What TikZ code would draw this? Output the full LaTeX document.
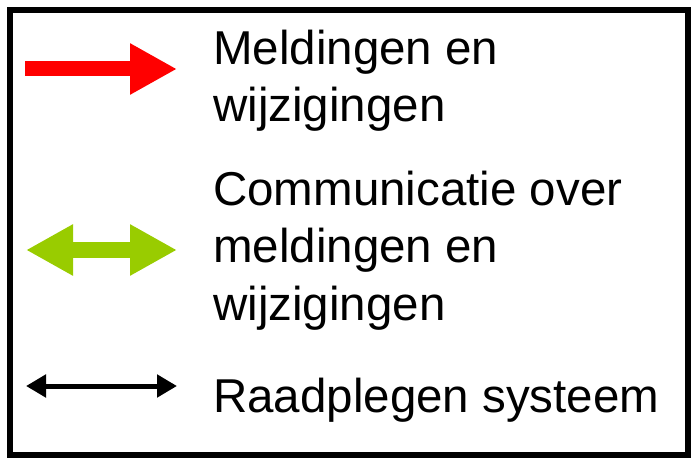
\documentclass[tikz,border=0pt]{standalone}
\usepackage{fontspec}
\setmainfont{Liberation Sans}
\usetikzlibrary{arrows.meta}
\definecolor{meldrood}{RGB}{255,0,0}
\definecolor{commgroen}{RGB}{153,204,0}

\begin{document}
\begin{tikzpicture}[x=1pt, y=-1pt,
    legtekst/.style={anchor=base west, inner sep=0pt, font=\fontsize{47.5}{57}\selectfont}]
        \useasboundingbox (0,0) rectangle (693,462);

        % Kader
        \draw[line width=6pt] (10,10) rectangle (688,455);

        % Pijlen
        \draw[meldrood, line width=15pt, -{Triangle[length=47pt,width=48pt]}] (25,69) -- (177,69);
        \draw[commgroen, line width=16pt, {Triangle[length=47pt,width=48pt]}-{Triangle[length=47pt,width=48pt]}] (26,250) -- (177,250);
        \draw[black, line width=5pt, {Triangle[length=20pt,width=22pt]}-{Triangle[length=20pt,width=22pt]}] (26,386) -- (177,386);

        % Teksten
        \node[legtekst] (meld1) at (213,65) {Meldingen en};
        \node[legtekst] (meld2) at (213,122) {wijzigingen};
        \node[legtekst] (comm1) at (213,206) {Communicatie over};
        \node[legtekst] (comm2) at (213,263) {meldingen en};
        \node[legtekst] (comm3) at (213,320) {wijzigingen};
        \node[legtekst] (raad) at (213,412) {Raadplegen systeem};
    \end{tikzpicture}
\end{document}
